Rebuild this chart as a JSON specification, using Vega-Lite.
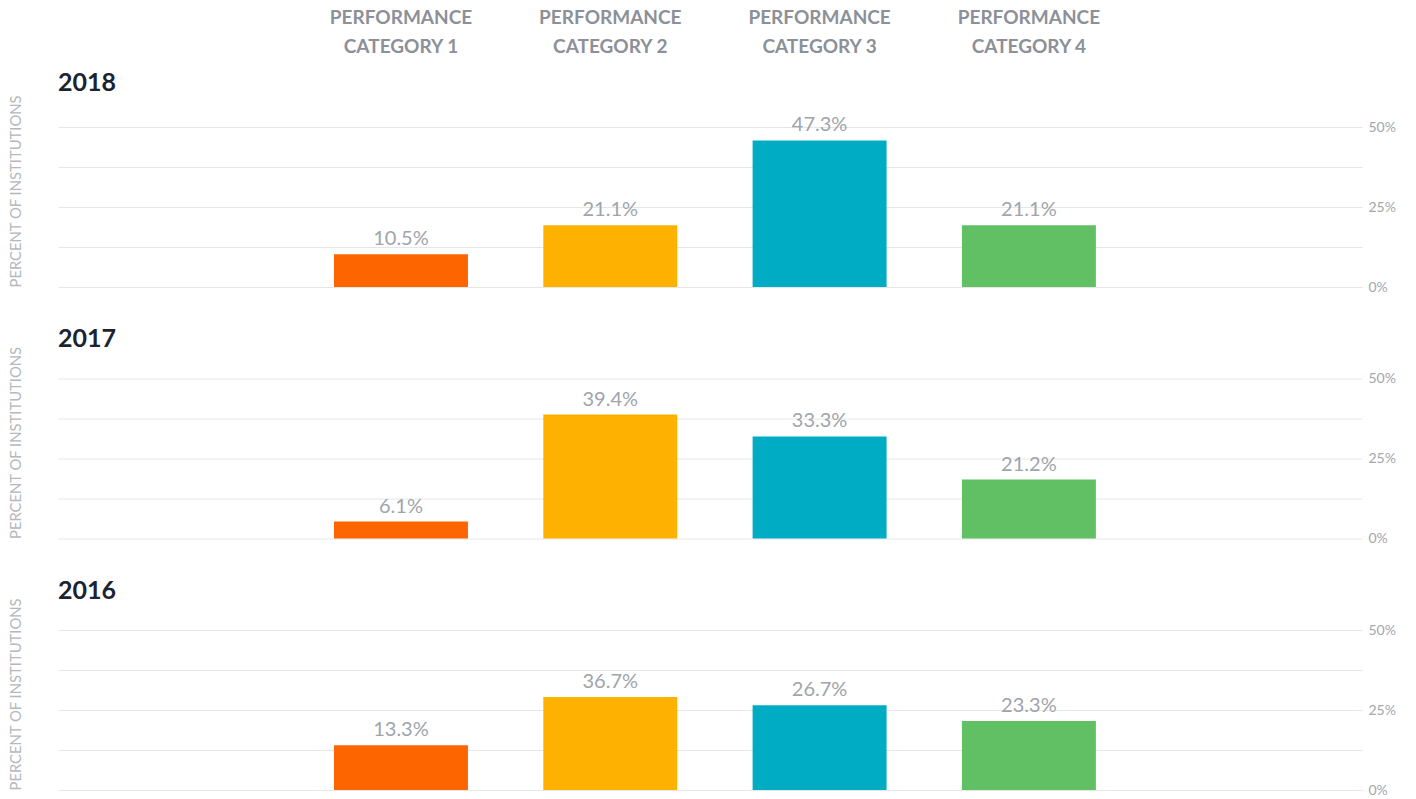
{
  "$schema": "https://vega.github.io/schema/vega-lite/v6.json",
  "padding": {"left": 8, "top": 8, "right": 5, "bottom": 2},
  "config": {
    "font": "Lato",
    "view": {"stroke": null},
    "concat": {"spacing": 32.5},
    "axis": {"labelFont": "Lato", "titleFont": "Lato"},
    "title": {"font": "Lato"}
  },
  "data": {
    "values": [
      {"year": "2018", "category": "PERFORMANCE CATEGORY 1", "value": 0.105, "height": 0.102},
      {"year": "2018", "category": "PERFORMANCE CATEGORY 2", "value": 0.211, "height": 0.193},
      {"year": "2018", "category": "PERFORMANCE CATEGORY 3", "value": 0.473, "height": 0.458},
      {"year": "2018", "category": "PERFORMANCE CATEGORY 4", "value": 0.211, "height": 0.193},
      {"year": "2017", "category": "PERFORMANCE CATEGORY 1", "value": 0.061, "height": 0.053},
      {"year": "2017", "category": "PERFORMANCE CATEGORY 2", "value": 0.394, "height": 0.3875},
      {"year": "2017", "category": "PERFORMANCE CATEGORY 3", "value": 0.333, "height": 0.319},
      {"year": "2017", "category": "PERFORMANCE CATEGORY 4", "value": 0.212, "height": 0.184},
      {"year": "2016", "category": "PERFORMANCE CATEGORY 1", "value": 0.133, "height": 0.140},
      {"year": "2016", "category": "PERFORMANCE CATEGORY 2", "value": 0.367, "height": 0.291},
      {"year": "2016", "category": "PERFORMANCE CATEGORY 3", "value": 0.267, "height": 0.265},
      {"year": "2016", "category": "PERFORMANCE CATEGORY 4", "value": 0.233, "height": 0.216}
    ]
  },
  "vconcat": [
    {
      "width": 1304,
      "height": 160,
      "transform": [{"filter": "datum.year == '2018'"}],
      "title": {"text": "2018", "anchor": "start", "frame": "group", "fontSize": 25, "fontWeight": "bold", "color": "#1b2330", "offset": -88},
      "encoding": {
        "x": {
          "field": "category", "type": "nominal", "sort": null,
          "scale": {"domain": ["_a", "PERFORMANCE CATEGORY 1", "PERFORMANCE CATEGORY 2", "PERFORMANCE CATEGORY 3", "PERFORMANCE CATEGORY 4", "_b"], "paddingInner": 0.36, "paddingOuter": 0.295, "align": 0.54},
          "axis": {
            "orient": "top", "title": null, "ticks": false, "domain": false, "labelAngle": 0,
            "labelExpr": "indexof(datum.label, 'PERF') < 0 ? '' : [slice(datum.label, 0, 11), slice(datum.label, 12)]",
            "labelFontSize": 19, "labelFontWeight": "bold", "labelColor": "#8c9099",
            "labelLineHeight": 29, "labelPadding": 100, "labelLimit": 0
          }
        },
        "color": {
          "field": "category", "type": "nominal", "legend": null,
          "scale": {"domain": ["PERFORMANCE CATEGORY 1", "PERFORMANCE CATEGORY 2", "PERFORMANCE CATEGORY 3", "PERFORMANCE CATEGORY 4"], "range": ["#fc6500", "#ffb100", "#00abc4", "#61bf64"]}
        }
      },
      "layer": [
        {
          "mark": {"type": "bar"},
          "encoding": {
            "y": {
              "field": "height", "type": "quantitative",
              "scale": {"domain": [0, 0.5], "nice": false},
              "axis": {
                "orient": "right", "title": null, "values": [0, 0.125, 0.25, 0.375, 0.5],
                "format": ".0%", "labelExpr": "datum.value == 0.125 || datum.value == 0.375 ? '' : datum.label",
                "ticks": false, "domain": false, "grid": true, "gridColor": "#e6e6e6",
                "labelColor": "#a3a6ab", "labelFontSize": 14, "labelPadding": 6
              }
            }
          }
        },
        {
          "mark": {"type": "text", "baseline": "alphabetic", "dy": -9, "fontSize": 20, "fontWeight": "normal"},
          "encoding": {
            "y": {
              "field": "height", "type": "quantitative",
              "axis": {
                "orient": "left", "title": "PERCENT OF INSTITUTIONS", "titleAnchor": "start",
                "labels": false, "ticks": false, "domain": false, "grid": false,
                "titleFontSize": 14.8, "titleFontWeight": "normal", "titleColor": "#b5b8bd", "titlePadding": 35
              }
            },
            "text": {"field": "value", "type": "quantitative", "format": ".1%"},
            "color": {"value": "#a0a4ab"}
          }
        }
      ],
      "resolve": {"axis": {"y": "independent"}}
    },
    {
      "width": 1304,
      "height": 160,
      "transform": [{"filter": "datum.year == '2017'"}],
      "title": {"text": "2017", "anchor": "start", "frame": "group", "fontSize": 25, "fontWeight": "bold", "color": "#1b2330", "offset": -6.5},
      "encoding": {
        "x": {
          "field": "category", "type": "nominal", "sort": null,
          "scale": {"domain": ["_a", "PERFORMANCE CATEGORY 1", "PERFORMANCE CATEGORY 2", "PERFORMANCE CATEGORY 3", "PERFORMANCE CATEGORY 4", "_b"], "paddingInner": 0.36, "paddingOuter": 0.295, "align": 0.54},
          "axis": null
        },
        "color": {
          "field": "category", "type": "nominal", "legend": null,
          "scale": {"domain": ["PERFORMANCE CATEGORY 1", "PERFORMANCE CATEGORY 2", "PERFORMANCE CATEGORY 3", "PERFORMANCE CATEGORY 4"], "range": ["#fc6500", "#ffb100", "#00abc4", "#61bf64"]}
        }
      },
      "layer": [
        {
          "mark": {"type": "bar"},
          "encoding": {
            "y": {
              "field": "height", "type": "quantitative",
              "scale": {"domain": [0, 0.5], "nice": false},
              "axis": {
                "orient": "right", "title": null, "values": [0, 0.125, 0.25, 0.375, 0.5],
                "format": ".0%", "labelExpr": "datum.value == 0.125 || datum.value == 0.375 ? '' : datum.label",
                "ticks": false, "domain": false, "grid": true, "gridColor": "#e6e6e6",
                "labelColor": "#a3a6ab", "labelFontSize": 14, "labelPadding": 6
              }
            }
          }
        },
        {
          "mark": {"type": "text", "baseline": "alphabetic", "dy": -9, "fontSize": 20, "fontWeight": "normal"},
          "encoding": {
            "y": {
              "field": "height", "type": "quantitative",
              "axis": {
                "orient": "left", "title": "PERCENT OF INSTITUTIONS", "titleAnchor": "start",
                "labels": false, "ticks": false, "domain": false, "grid": false,
                "titleFontSize": 14.8, "titleFontWeight": "normal", "titleColor": "#b5b8bd", "titlePadding": 35
              }
            },
            "text": {"field": "value", "type": "quantitative", "format": ".1%"},
            "color": {"value": "#a0a4ab"}
          }
        }
      ],
      "resolve": {"axis": {"y": "independent"}}
    },
    {
      "width": 1304,
      "height": 160,
      "transform": [{"filter": "datum.year == '2016'"}],
      "title": {"text": "2016", "anchor": "start", "frame": "group", "fontSize": 25, "fontWeight": "bold", "color": "#1b2330", "offset": -6.5},
      "encoding": {
        "x": {
          "field": "category", "type": "nominal", "sort": null,
          "scale": {"domain": ["_a", "PERFORMANCE CATEGORY 1", "PERFORMANCE CATEGORY 2", "PERFORMANCE CATEGORY 3", "PERFORMANCE CATEGORY 4", "_b"], "paddingInner": 0.36, "paddingOuter": 0.295, "align": 0.54},
          "axis": null
        },
        "color": {
          "field": "category", "type": "nominal", "legend": null,
          "scale": {"domain": ["PERFORMANCE CATEGORY 1", "PERFORMANCE CATEGORY 2", "PERFORMANCE CATEGORY 3", "PERFORMANCE CATEGORY 4"], "range": ["#fc6500", "#ffb100", "#00abc4", "#61bf64"]}
        }
      },
      "layer": [
        {
          "mark": {"type": "bar"},
          "encoding": {
            "y": {
              "field": "height", "type": "quantitative",
              "scale": {"domain": [0, 0.5], "nice": false},
              "axis": {
                "orient": "right", "title": null, "values": [0, 0.125, 0.25, 0.375, 0.5],
                "format": ".0%", "labelExpr": "datum.value == 0.125 || datum.value == 0.375 ? '' : datum.label",
                "ticks": false, "domain": false, "grid": true, "gridColor": "#e6e6e6",
                "labelColor": "#a3a6ab", "labelFontSize": 14, "labelPadding": 6
              }
            }
          }
        },
        {
          "mark": {"type": "text", "baseline": "alphabetic", "dy": -9, "fontSize": 20, "fontWeight": "normal"},
          "encoding": {
            "y": {
              "field": "height", "type": "quantitative",
              "axis": {
                "orient": "left", "title": "PERCENT OF INSTITUTIONS", "titleAnchor": "start",
                "labels": false, "ticks": false, "domain": false, "grid": false,
                "titleFontSize": 14.8, "titleFontWeight": "normal", "titleColor": "#b5b8bd", "titlePadding": 35
              }
            },
            "text": {"field": "value", "type": "quantitative", "format": ".1%"},
            "color": {"value": "#a0a4ab"}
          }
        }
      ],
      "resolve": {"axis": {"y": "independent"}}
    }
  ]
}
